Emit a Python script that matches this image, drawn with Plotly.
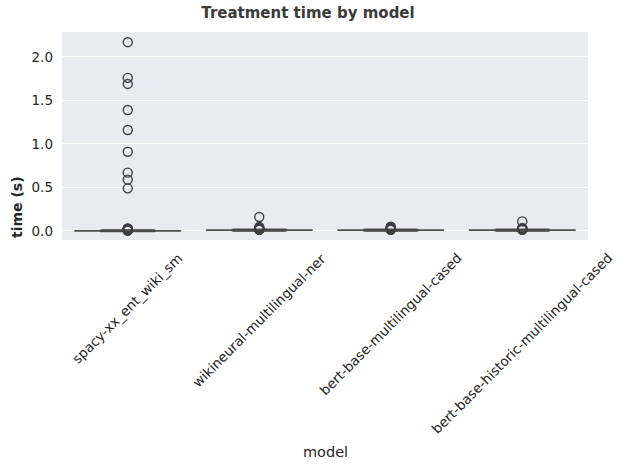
import plotly.graph_objects as go

models = ["spacy-xx_ent_wiki_sm", "wikineural-multilingual-ner",
          "bert-base-multilingual-cased", "bert-base-historic-multilingual-cased"]
lower = [0.0, 0.006, 0.006, 0.006]
q1 = [0.001, 0.008, 0.008, 0.008]
median = [0.002, 0.009, 0.009, 0.009]
q3 = [0.003, 0.010, 0.010, 0.010]
upper = [0.004, 0.012, 0.012, 0.012]
outliers = [
    [2.17, 1.76, 1.69, 1.39, 1.16, 0.91, 0.67, 0.59, 0.49,
     0.03, 0.026, 0.022, 0.018, 0.015, 0.012, 0.01, 0.008, 0.006, 0.005],
    [0.16, 0.045, 0.035, 0.03, 0.025, 0.022, 0.02, 0.018, 0.016, 0.014],
    [0.05, 0.042, 0.035, 0.03, 0.026, 0.022, 0.019, 0.016, 0.014],
    [0.11, 0.035, 0.03, 0.026, 0.022, 0.019, 0.016, 0.014],
]
yticks = [0.0, 0.5, 1.0, 1.5, 2.0]

LINE = "#3f3f3f"
TEXT = "#262626"
FONT = "DejaVu Sans"

fig = go.Figure()
for i, m in enumerate(models):
    fig.add_trace(go.Box(
        x=[m], q1=[q1[i]], median=[median[i]], q3=[q3[i]],
        lowerfence=[lower[i]], upperfence=[upper[i]],
        width=0.8, whiskerwidth=0.5, boxpoints=False,
        line=dict(color="#505050", width=1.6), fillcolor="rgba(49,115,161,0.0)",
        showlegend=False, hoverinfo="skip",
    ))
    fig.add_trace(go.Box(
        x=[m], q1=[q1[i]], median=[median[i]], q3=[q3[i]],
        lowerfence=[lower[i]], upperfence=[upper[i]],
        width=0.4, whiskerwidth=1, boxpoints=False,
        line=dict(color="#4a4a4a", width=2.6), fillcolor="rgba(49,115,161,0.0)",
        showlegend=False, hoverinfo="skip",
    ))
    fig.add_trace(go.Scatter(
        x=[m] * len(outliers[i]), y=outliers[i], mode="markers",
        marker=dict(symbol="circle-open", size=9, color=LINE, line=dict(width=1.4, color=LINE)),
        showlegend=False,
    ))

annotations = []
for m in models:
    annotations.append(dict(
        x=m, xref="x", y=-0.035, yref="paper", text=m, showarrow=False,
        textangle=-45, xanchor="center", yanchor="top",
        font=dict(family=FONT, size=13.5, color=TEXT),
    ))
annotations.append(dict(
    x=-0.0856, xref="paper", y=0, yref="paper", text="<b>time (s)</b>", showarrow=False,
    textangle=-90, xanchor="center", yanchor="bottom",
    font=dict(family=FONT, size=14, color=TEXT),
))
annotations.append(dict(
    x=0.5, xref="paper", y=-1.019, yref="paper", text="model", showarrow=False,
    xanchor="center", yanchor="middle",
    font=dict(family=FONT, size=14.5, color=TEXT),
))

fig.update_layout(
    width=626, height=470,
    margin=dict(l=62, r=38, t=32, b=230),
    paper_bgcolor="white", plot_bgcolor="#EAEAF2",
    font=dict(family=FONT, size=13.5, color=TEXT),
    title=dict(text="<b>Treatment time by model</b>", x=308 / 626, xref="container",
               y=1 - 13 / 470, yref="container", xanchor="center", yanchor="middle",
               font=dict(family=FONT, size=15, color="#3a3a3a")),
    annotations=annotations,
)
fig.update_xaxes(
    type="category", categoryorder="array", categoryarray=models,
    showticklabels=False, showgrid=False, zeroline=False, showline=False,
    range=[-0.5, 3.5],
)
fig.update_yaxes(
    range=[-0.104, 2.287], tickvals=yticks, ticktext=[f"{v:.1f}" for v in yticks],
    showgrid=True, gridcolor="white", gridwidth=1.2, zeroline=False, showline=False,
    ticklabelstandoff=8, tickfont=dict(family=FONT, size=13.5, color=TEXT),
)

fig.write_html("out.html", config={"displayModeBar": False},
               post_script="document.body.style.margin='0';")
